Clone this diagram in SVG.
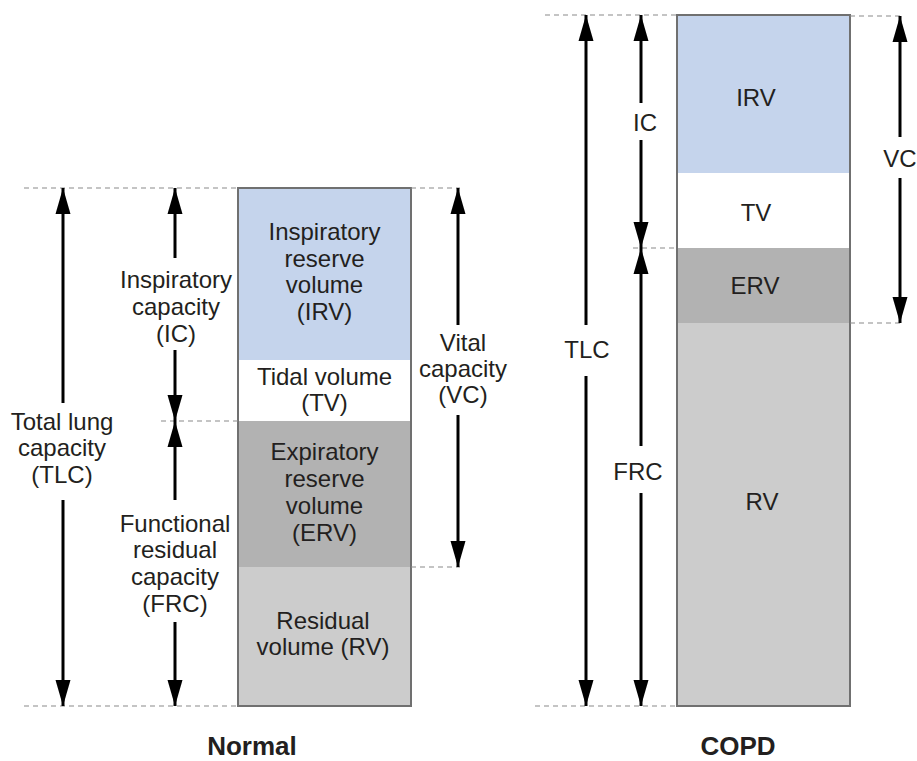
<svg xmlns="http://www.w3.org/2000/svg" width="917" height="761" viewBox="0 0 917 761">
<style>
text{font-family:"Liberation Sans",Arial,Helvetica,sans-serif;font-size:24px;fill:#231f20;text-anchor:middle}
.title{font-weight:bold;font-size:26px}
.dash{stroke:#8a8a8a;stroke-width:1.2;stroke-dasharray:5 4;fill:none}
.arr{stroke:#000;stroke-width:3;fill:none;marker-end:url(#head)}
.col{fill:none;stroke:#707070;stroke-width:2}
.irv{fill:#c5d4ec}.tv{fill:#ffffff}.erv{fill:#b2b2b2}.rv{fill:#cccccc}
</style>
<defs>
<marker id="head" markerUnits="userSpaceOnUse" markerWidth="26" markerHeight="16" viewBox="0 0 26 16" refX="26" refY="8" orient="auto">
<path d="M0,0.5 L26,8 L0,15.5 Z" fill="#000"/>
</marker>
</defs>

<g id="normal-column">
<rect class="irv" x="238" y="188" width="173" height="172"/>
<rect class="tv" x="238" y="360" width="173" height="61"/>
<rect class="erv" x="238" y="421" width="173" height="146"/>
<rect class="rv" x="238" y="567" width="173" height="139"/>
<rect class="col" x="238" y="188" width="173" height="518"/>
</g>
<g id="normal-irv"><text x="324.5" y="240">Inspiratory</text><text x="324.5" y="266.5">reserve</text><text x="324.5" y="293">volume</text><text x="324.5" y="320">(IRV)</text></g>
<g id="normal-tv"><text x="324.5" y="385">Tidal volume</text><text x="324.5" y="411">(TV)</text></g>
<g id="normal-erv"><text x="324.5" y="460">Expiratory</text><text x="324.5" y="487">reserve</text><text x="324.5" y="514">volume</text><text x="324.5" y="541">(ERV)</text></g>
<g id="normal-rv"><text x="323" y="629">Residual</text><text x="323" y="655">volume (RV)</text></g>
<g id="normal-tlc-label"><text x="62" y="430">Total lung</text><text x="62" y="456">capacity</text><text x="62" y="483">(TLC)</text></g>
<g id="normal-ic-label"><text x="176" y="288">Inspiratory</text><text x="176" y="315">capacity</text><text x="176" y="342">(IC)</text></g>
<g id="normal-frc-label"><text x="175" y="532">Functional</text><text x="175" y="558">residual</text><text x="175" y="585">capacity</text><text x="175" y="612">(FRC)</text></g>
<g id="normal-vc-label"><text x="463" y="351">Vital</text><text x="463" y="377">capacity</text><text x="463" y="403">(VC)</text></g>

<g id="copd-column">
<rect class="irv" x="677" y="15" width="173" height="158"/>
<rect class="tv" x="677" y="173" width="173" height="75"/>
<rect class="erv" x="677" y="248" width="173" height="75"/>
<rect class="rv" x="677" y="323" width="173" height="383"/>
<rect class="col" x="677" y="15" width="173" height="691"/>
</g>
<g id="copd-irv"><text x="756" y="106">IRV</text></g>
<g id="copd-tv"><text x="756" y="221">TV</text></g>
<g id="copd-erv"><text x="755" y="294">ERV</text></g>
<g id="copd-rv"><text x="762" y="510">RV</text></g>
<g id="copd-ic-label"><text x="645" y="131">IC</text></g>
<g id="copd-vc-label"><text x="900" y="167">VC</text></g>
<g id="copd-tlc-label"><text x="587" y="358">TLC</text></g>
<g id="copd-frc-label"><text x="638" y="480">FRC</text></g>

<g id="titles">
<text class="title" x="252" y="755">Normal</text>
<text class="title" x="738" y="755">COPD</text>
</g>

<g id="connectors">
<line class="dash" x1="24" y1="188" x2="238" y2="188"/>
<line class="dash" x1="411" y1="188" x2="460" y2="188"/>
<line class="dash" x1="161" y1="421" x2="238" y2="421"/>
<line class="dash" x1="411" y1="567" x2="460" y2="567"/>
<line class="dash" x1="24" y1="706" x2="238" y2="706"/>
<line class="dash" x1="545" y1="15" x2="677" y2="15"/>
<line class="dash" x1="850" y1="16" x2="903" y2="16"/>
<line class="dash" x1="633" y1="248" x2="677" y2="248"/>
<line class="dash" x1="850" y1="323" x2="903" y2="323"/>
<line class="dash" x1="535" y1="706" x2="677" y2="706"/>

<line class="arr" x1="63" y1="403" x2="63" y2="188"/>
<line class="arr" x1="63" y1="500" x2="63" y2="706"/>
<line class="arr" x1="175" y1="258" x2="175" y2="188"/>
<line class="arr" x1="175" y1="350" x2="175" y2="421"/>
<line class="arr" x1="175" y1="500" x2="175" y2="421"/>
<line class="arr" x1="175" y1="622" x2="175" y2="706"/>
<line class="arr" x1="458" y1="325" x2="458" y2="188"/>
<line class="arr" x1="458" y1="415" x2="458" y2="567"/>

<line class="arr" x1="586" y1="325" x2="586" y2="15"/>
<line class="arr" x1="586" y1="376" x2="586" y2="706"/>
<line class="arr" x1="641" y1="103" x2="641" y2="15"/>
<line class="arr" x1="641" y1="140" x2="641" y2="248"/>
<line class="arr" x1="641" y1="446" x2="641" y2="248"/>
<line class="arr" x1="641" y1="493" x2="641" y2="706"/>
<line class="arr" x1="900" y1="137" x2="900" y2="16"/>
<line class="arr" x1="900" y1="178" x2="900" y2="323"/>
</g>
</svg>
